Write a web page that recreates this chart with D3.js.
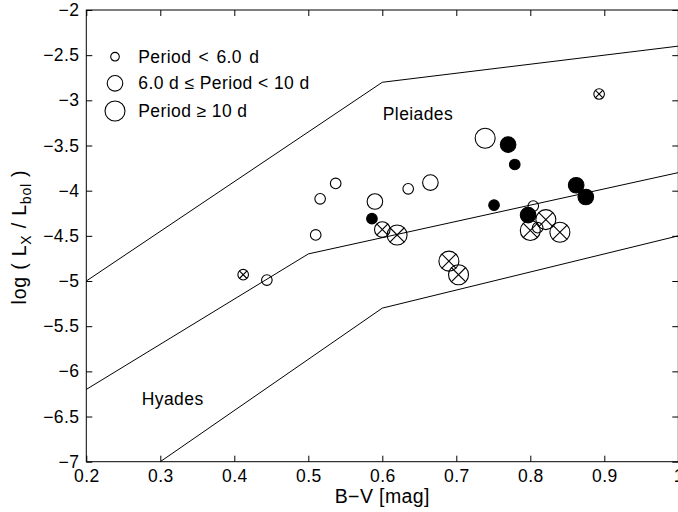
<!DOCTYPE html>
<html><head><meta charset="utf-8">
<script src="https://cdn.jsdelivr.net/npm/d3@7"></script>
<style>body{margin:0;background:#fff}svg{display:block}text{font-family:"Liberation Sans",Arial,sans-serif;fill:#000}</style>
</head><body><svg id="c" width="678" height="512"></svg>
<script>
// Data (B-V, log Lx/Lbol), marker style and period class
const bv     = [0.412,0.444,0.510,0.516,0.537,0.590,0.586,0.635,0.665,0.600,0.620,0.690,0.703,0.739,0.770,0.779,0.751,0.804,0.797,0.821,0.800,0.810,0.840,0.862,0.875,0.893];
const logLx  = [-4.93,-4.99,-4.49,-4.09,-3.92,-4.12,-4.31,-3.98,-3.91,-4.43,-4.49,-4.78,-4.93,-3.42,-3.49,-3.71,-4.16,-4.17,-4.27,-4.32,-4.44,-4.41,-4.46,-3.94,-4.07,-2.93];
const style  = ["x","o","o","o","o","o","f","o","o","x","x","x","x","o","f","f","f","o","f","x","x","o","x","f","f","x"];
const period = ["s","s","s","s","s","m","s","s","m","m","l","l","l","l","m","s","s","s","m","l","l","s","l","m","m","s"];
// Reference lines
const pleiadesX = [0.2,0.6,1.0], pleiadesY = [-5.0,-2.8,-2.4];
const midX = [0.2,0.5,1.0], midY = [-6.2,-4.7,-3.8];
const lowX = [0.3,0.6,1.0], lowY = [-7.0,-5.3,-4.5];
const xTicks = [0.2,0.3,0.4,0.5,0.6,0.7,0.8,0.9,1];
const yTicks = [-7,-6.5,-6,-5.5,-5,-4.5,-4,-3.5,-3,-2.5,-2];
const legendLabels = ["Period < 6.0 d","6.0 d \u2264 Period < 10 d","Period \u2265 10 d"];

const svg = d3.select("#c");
const L=86.3, R=678.3, T=10, B=461.7;
const x = d3.scaleLinear().domain([0.2,1]).range([L,R]);
const y = d3.scaleLinear().domain([-7,-2]).range([B,T]);
const rad = {s:5.3, m:7.8, l:10};
const FS = 17.5, LS = 0.4;

const g = svg.append("g");
g.append("rect").attr("x",L).attr("y",T).attr("width",R-L).attr("height",B-T).attr("fill","none").attr("stroke","#000").attr("stroke-width",1);

const fmt = d => String(d).replace("-","\u2212");
const xb = g.append("g").attr("transform",`translate(0,${B})`).call(d3.axisBottom(x).tickValues(xTicks).tickSize(-6).tickPadding(8).tickFormat(d=>String(d)));
const xt = g.append("g").attr("transform",`translate(0,${T})`).call(d3.axisTop(x).tickValues(xTicks).tickSize(-6).tickFormat(""));
const yl = g.append("g").attr("transform",`translate(${L},0)`).call(d3.axisLeft(y).tickValues(yTicks).tickSize(-6).tickPadding(7).tickFormat(fmt));
const yr = g.append("g").attr("transform",`translate(${R},0)`).call(d3.axisRight(y).tickValues(yTicks).tickSize(-6).tickFormat(""));
[xb,xt,yl,yr].forEach(a=>{a.select(".domain").remove();a.selectAll("line").attr("stroke","#000");a.selectAll("text").attr("font-size",FS).attr("letter-spacing",LS).attr("font-family","Liberation Sans, Arial, sans-serif");});

const line = d3.line().x(d=>x(d[0])).y(d=>y(d[1]));
[[pleiadesX,pleiadesY],[midX,midY],[lowX,lowY]].forEach(([xs,ys])=>{
  g.append("path").attr("d",line(xs.map((v,i)=>[v,ys[i]]))).attr("fill","none").attr("stroke","#000").attr("stroke-width",1);
});

function marker(sel, cx, cy, r, st){
  const m = sel.append("g").attr("transform",`translate(${cx},${cy})`);
  m.append("circle").attr("r",r).attr("fill",st==="f"?"#000":"none").attr("stroke","#000").attr("stroke-width",1.1);
  if(st==="x"){
    const k=r*0.72;
    m.append("line").attr("x1",-k).attr("y1",-k).attr("x2",k).attr("y2",k).attr("stroke","#000").attr("stroke-width",1.1);
    m.append("line").attr("x1",-k).attr("y1",k).attr("x2",k).attr("y2",-k).attr("stroke","#000").attr("stroke-width",1.1);
  }
}
bv.forEach((v,i)=>marker(g, x(v), y(logLx[i]), rad[period[i]], style[i]));

g.append("text").attr("x",x(0.6)+0.5).attr("y",y(-3.2)+2).attr("font-size",FS).attr("letter-spacing",LS).text("Pleiades");
g.append("text").attr("x",x(0.275)).attr("y",y(-6.37)).attr("font-size",FS).attr("letter-spacing",LS).text("Hyades");

const legY = [56.7,83.3,111];
legendLabels.forEach((lab,i)=>{
  marker(g,115,legY[i],[4.3,7.8,10][i],"o");
  g.append("text").attr("x",138.3).attr("y",legY[i]).attr("dy","0.35em").attr("font-size",FS).attr("letter-spacing",LS).attr("word-spacing",i===0?2:0).text(lab);
});

g.append("text").attr("x",(L+R)/2).attr("y",503).attr("text-anchor","middle").attr("font-size",19.5).attr("letter-spacing",LS).text("B\u2212V [mag]");
const yt = g.append("text").attr("transform",`translate(26,237) rotate(-90)`).attr("text-anchor","middle").attr("font-size",19.5).attr("letter-spacing",0.8);
yt.append("tspan").text("log ( L");
yt.append("tspan").attr("dy",5).attr("font-size",14).text("X");
yt.append("tspan").attr("dy",-5).text(" / L");
yt.append("tspan").attr("dy",5).attr("font-size",14).text("bol");
yt.append("tspan").attr("dy",-5).text(" )");
</script></body></html>
